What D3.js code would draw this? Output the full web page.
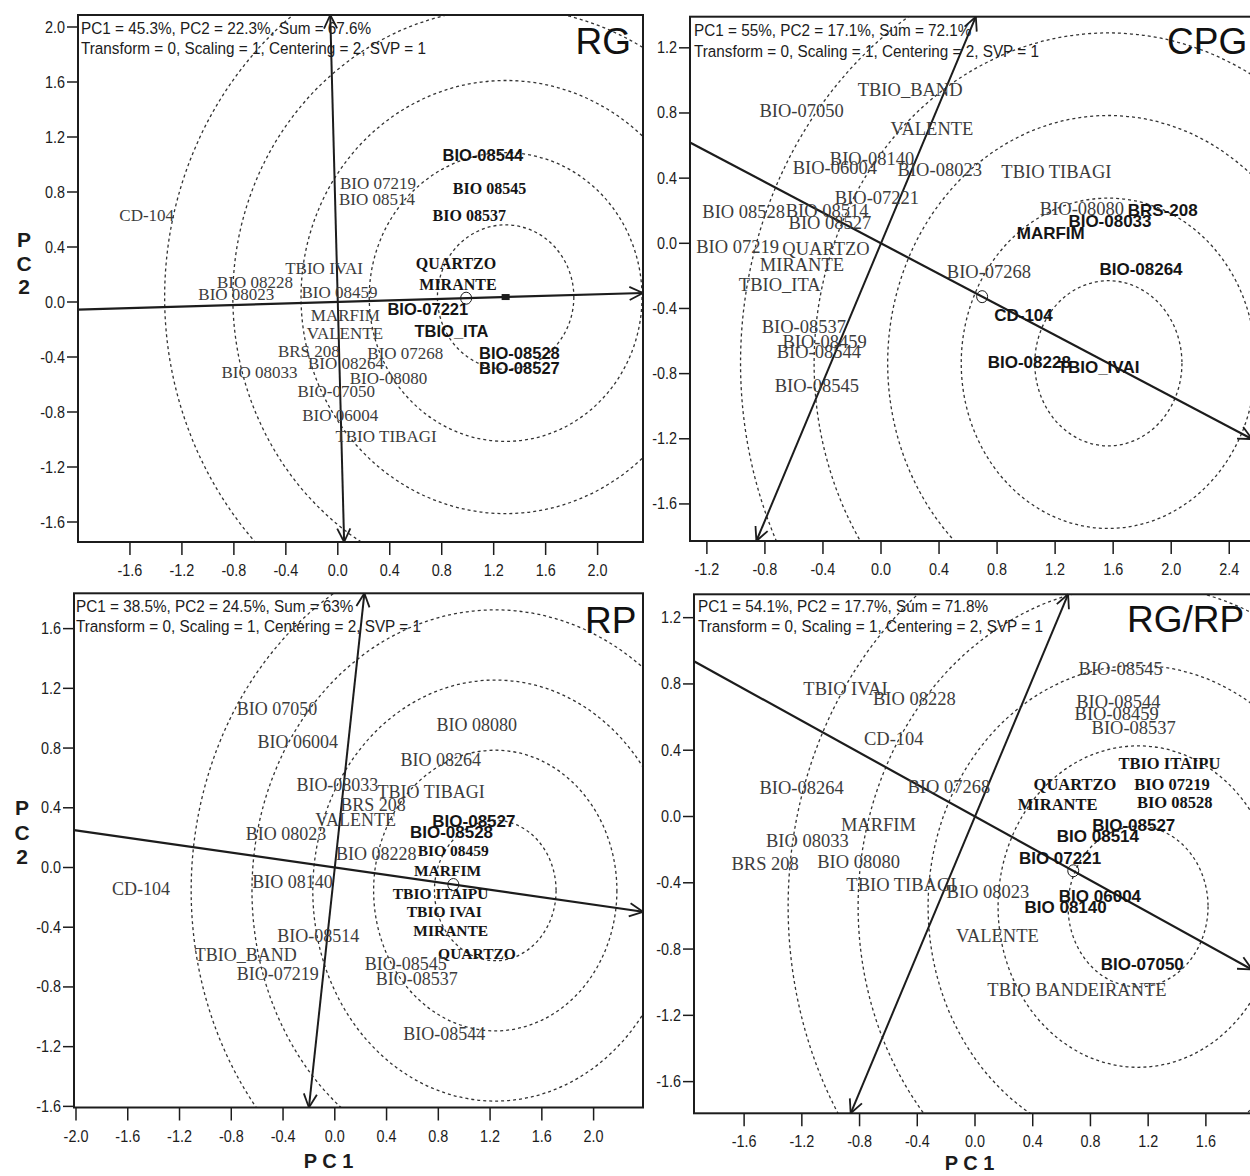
<!DOCTYPE html>
<html><head><meta charset="utf-8">
<script src="https://cdn.jsdelivr.net/npm/d3@7"></script>
<style>body{margin:0;background:#fff}svg{display:block}</style>
</head><body>
<svg id="c" width="1250" height="1176"></svg>
<script>
// ================= DATA =================
// group codes: 0 = regular, 1 = bold group A, 2 = bold group B
const rgInfo = ["PC1 = 45.3%, PC2 = 22.3%, Sum = 67.6%", "Transform = 0, Scaling = 1, Centering = 2, SVP = 1"];
const cpgInfo = ["PC1 = 55%, PC2 = 17.1%, Sum = 72.1%", "Transform = 0, Scaling = 1, Centering = 2, SVP = 1"];
const rpInfo = ["PC1 = 38.5%, PC2 = 24.5%, Sum = 63%", "Transform = 0, Scaling = 1, Centering = 2, SVP = 1"];
const rgrpInfo = ["PC1 = 54.1%, PC2 = 17.7%, Sum = 71.8%", "Transform = 0, Scaling = 1, Centering = 2, SVP = 1"];

const rgXTicks = [-1.6,-1.2,-0.8,-0.4,0,0.4,0.8,1.2,1.6,2.0];
const rgYTicks = [-1.6,-1.2,-0.8,-0.4,0,0.4,0.8,1.2,1.6,2.0];
const cpgXTicks = [-1.2,-0.8,-0.4,0,0.4,0.8,1.2,1.6,2.0,2.4];
const cpgYTicks = [-1.6,-1.2,-0.8,-0.4,0,0.4,0.8,1.2];
const rpXTicks = [-2.0,-1.6,-1.2,-0.8,-0.4,0,0.4,0.8,1.2,1.6,2.0];
const rpYTicks = [-1.6,-1.2,-0.8,-0.4,0,0.4,0.8,1.2,1.6];
const rgrpXTicks = [-1.6,-1.2,-0.8,-0.4,0,0.4,0.8,1.2,1.6];
const rgrpYTicks = [-1.6,-1.2,-0.8,-0.4,0,0.4,0.8,1.2];

// average-environment axis slope, ideal point (on axis), average marker, ring radii
const rgAxisSlope = 0.0279,  rgIdealX = 1.292,  rgAvgX = 0.988;
const cpgAxisSlope = -0.470, cpgIdealX = 1.567, cpgAvgX = 0.697;
const rpAxisSlope = -0.1245, rpIdealX = 1.24,   rpAvgX = 0.916;
const rgrpAxisSlope = -0.481, rgrpIdealX = 1.13, rgrpAvgX = 0.681;
const rgRings = [0.525, 1.05, 1.575, 2.1, 2.625];
const cpgRings = [0.507, 1.014, 1.521, 2.028, 2.535];
const rpRings = [0.47, 0.94, 1.41, 1.88, 2.35];
const rgrpRings = [0.485, 0.97, 1.455, 1.94, 2.425];

const rgGenotypes = [
 ["BIO-08544", 1.117, 1.069, 1], ["BIO 08545", 1.168, 0.827, 2], ["BIO 08537", 1.012, 0.633, 2],
 ["BIO 07219", 0.309, 0.863, 0], ["BIO 08514", 0.302, 0.747, 0], ["CD-104", -1.471, 0.633, 0],
 ["QUARTZO", 0.910, 0.281, 2], ["TBIO IVAI", -0.106, 0.249, 0], ["BIO 08228", -0.637, 0.148, 0],
 ["BIO 08023", -0.781, 0.058, 0], ["MIRANTE", 0.925, 0.130, 2], ["BIO 08459", 0.013, 0.069, 0],
 ["BIO-07221", 0.693, -0.052, 1], ["MARFIM", 0.058, -0.095, 0], ["VALENTE", 0.055, -0.223, 0],
 ["TBIO_ITA", 0.875, -0.210, 1], ["BRS 208", -0.223, -0.354, 0], ["BIO 07268", 0.520, -0.369, 0],
 ["BIO 08264", 0.063, -0.441, 0], ["BIO-08528", 1.398, -0.372, 1], ["BIO-08527", 1.398, -0.478, 1],
 ["BIO 08033", -0.603, -0.507, 0], ["BIO-08080", 0.390, -0.552, 0], ["BIO-07050", -0.012, -0.647, 0],
 ["BIO 06004", 0.019, -0.822, 0], ["TBIO TIBAGI", 0.371, -0.975, 0]
];
const cpgGenotypes = [
 ["TBIO_BAND", 0.201, 0.941, 0], ["BIO-07050", -0.547, 0.818, 0], ["VALENTE", 0.351, 0.706, 0],
 ["BIO-06004", -0.318, 0.464, 0], ["BIO-08140", -0.062, 0.522, 0], ["BIO-08023", 0.405, 0.450, 0],
 ["TBIO TIBAGI", 1.209, 0.440, 0], ["BIO-07221", -0.028, 0.282, 0], ["BIO 08528", -0.946, 0.198, 0],
 ["BIO 08514", -0.371, 0.204, 0], ["BIO 08527", -0.352, 0.126, 0], ["BIO 07219", -0.988, -0.017, 0],
 ["QUARTZO", -0.379, -0.031, 0], ["MIRANTE", -0.545, -0.133, 0], ["TBIO_ITA", -0.698, -0.256, 0],
 ["BIO-08080", 1.385, 0.215, 0], ["BRS-208", 1.942, 0.204, 1], ["BIO-08033", 1.578, 0.139, 1],
 ["MARFIM", 1.170, 0.061, 1], ["BIO-07268", 0.744, -0.174, 0], ["BIO-08264", 1.792, -0.160, 1],
 ["CD-104", 0.982, -0.440, 1], ["BIO-08537", -0.532, -0.512, 0], ["BIO-08459", -0.389, -0.600, 0],
 ["BIO-08544", -0.428, -0.665, 0], ["BIO-08545", -0.442, -0.876, 0], ["BIO-08228", 1.022, -0.727, 1],
 ["TBIO_IVAI", 1.499, -0.761, 1]
];
const rpGenotypes = [
 ["BIO 07050", -0.447, 1.066, 0], ["BIO 06004", -0.287, 0.843, 0], ["BIO 08080", 1.097, 0.954, 0],
 ["BIO 08264", 0.818, 0.720, 0], ["BIO-08033", 0.020, 0.553, 0], ["TBIO TIBAGI", 0.744, 0.508, 0],
 ["BRS 208", 0.295, 0.423, 0], ["VALENTE", 0.161, 0.318, 0], ["BIO-08527", 1.075, 0.312, 1],
 ["BIO-08528", 0.902, 0.240, 1], ["BIO 08023", -0.377, 0.229, 0], ["BIO 08228", 0.321, 0.095, 0],
 ["BIO 08459", 0.915, 0.111, 2], ["MARFIM", 0.871, -0.020, 2], ["CD-104", -1.498, -0.139, 0],
 ["BIO 08140", -0.326, -0.095, 0], ["TBIO ITAIPU", 0.818, -0.173, 2], ["TBIO IVAI", 0.846, -0.296, 2],
 ["MIRANTE", 0.896, -0.425, 2], ["QUARTZO", 1.099, -0.577, 2], ["BIO-08514", -0.128, -0.459, 0],
 ["TBIO_BAND", -0.688, -0.586, 0], ["BIO-07219", -0.441, -0.709, 0], ["BIO-08545", 0.548, -0.645, 0],
 ["BIO-08537", 0.634, -0.742, 0], ["BIO-08544", 0.846, -1.111, 0]
];
const rgrpGenotypes = [
 ["TBIO IVAI", -0.897, 0.774, 0], ["BIO 08228", -0.420, 0.709, 0], ["CD-104", -0.563, 0.472, 0],
 ["BIO-08264", -1.202, 0.176, 0], ["BIO 07268", -0.181, 0.180, 0], ["MARFIM", -0.669, -0.047, 0],
 ["BIO 08033", -1.162, -0.148, 0], ["BRS 208", -1.454, -0.282, 0], ["BIO 08080", -0.807, -0.269, 0],
 ["TBIO TIBAGI", -0.510, -0.413, 0], ["BIO-08545", 1.010, 0.894, 0], ["BIO-08544", 0.993, 0.693, 0],
 ["BIO-08459", 0.982, 0.623, 0], ["BIO-08537", 1.100, 0.536, 0], ["TBIO ITAIPU", 1.347, 0.321, 2],
 ["QUARTZO", 0.693, 0.196, 2], ["BIO 07219", 1.365, 0.196, 2], ["MIRANTE", 0.573, 0.074, 2],
 ["BIO 08528", 1.384, 0.089, 2], ["BIO-08527", 1.100, -0.051, 1], ["BIO 08514", 0.852, -0.118, 1],
 ["BIO 07221", 0.589, -0.252, 1], ["BIO 08023", 0.090, -0.454, 0], ["BIO 06004", 0.866, -0.480, 1],
 ["BIO 08140", 0.628, -0.544, 1], ["VALENTE", 0.155, -0.721, 0], ["BIO-07050", 1.159, -0.890, 1],
 ["TBIO BANDEIRANTE", 0.707, -1.043, 0]
];

// ================= DRAWING =================
const svg = d3.select("#c");
const SANS = "'Liberation Sans', Arial, sans-serif";
const SERIF = "'Liberation Serif', 'Times New Roman', serif";
const INK = "#1c1c1c";

function squeezedText(g, x, y, str, size, sx, anchor, weight) {
  return g.append("text")
    .attr("transform", `translate(${x},${y}) scale(${sx},1)`)
    .attr("font-family", SANS).attr("font-size", size)
    .attr("font-weight", weight || "normal")
    .attr("text-anchor", anchor || "start").attr("fill", INK).text(str);
}

function clipLine(O, D, l, r, t, b) {
  let lo = -Infinity, hi = Infinity;
  [[O[0], D[0], l, r], [O[1], D[1], t, b]].forEach(([o, d, mn, mx]) => {
    if (Math.abs(d) < 1e-12) return;
    const t1 = (mn - o) / d, t2 = (mx - o) / d;
    lo = Math.max(lo, Math.min(t1, t2)); hi = Math.min(hi, Math.max(t1, t2));
  });
  return [[O[0] + lo * D[0], O[1] + lo * D[1]], [O[0] + hi * D[0], O[1] + hi * D[1]]];
}

function arrowHead(g, tip, from) {
  const dx = tip[0] - from[0], dy = tip[1] - from[1];
  const L = Math.hypot(dx, dy), ux = dx / L, uy = dy / L;
  const len = 15, a = 26 * Math.PI / 180;
  [a, -a].forEach(ang => {
    const c = Math.cos(ang), s = Math.sin(ang);
    const rx = ux * c - uy * s, ry = ux * s + uy * c;
    g.append("line").attr("x1", tip[0]).attr("y1", tip[1])
      .attr("x2", tip[0] - len * rx).attr("y2", tip[1] - len * ry)
      .attr("stroke", INK).attr("stroke-width", 1.8);
  });
}

function drawPanel(p) {
  const g = svg.append("g");
  const x = d3.scaleLinear().domain([(p.l - p.x0) / p.kx, (p.r - p.x0) / p.kx]).range([p.l, p.r]);
  const y = d3.scaleLinear().domain([(p.y0 - p.b) / p.ky, (p.y0 - p.t) / p.ky]).range([p.b, p.t]);
  const cid = "clip" + p.id;
  svg.append("clipPath").attr("id", cid).append("rect")
    .attr("x", p.l).attr("y", p.t).attr("width", p.r - p.l).attr("height", p.b - p.t);
  const inner = g.append("g").attr("clip-path", `url(#${cid})`);

  // concentric rings about the ideal point
  const cx = p.idealX, cy = p.slope * p.idealX;
  inner.selectAll("ellipse.ring").data(p.rings).join("ellipse").attr("class", "ring")
    .attr("cx", x(cx)).attr("cy", y(cy))
    .attr("rx", d => x(d) - x(0)).attr("ry", d => y(0) - y(d))
    .attr("fill", "none").attr("stroke", "#333").attr("stroke-width", 1.3)
    .attr("stroke-dasharray", "3,3");

  // axes through origin
  const O = [x(0), y(0)];
  const Dab = [x(1) - x(0), y(p.slope) - y(0)];
  const Dor = [x(-p.slope) - x(0), y(1) - y(0)];
  const ab = clipLine(O, Dab, p.l, p.r, p.t, p.b);
  const or = clipLine(O, Dor, p.l, p.r, p.t, p.b);
  g.append("line").attr("x1", ab[0][0]).attr("y1", ab[0][1]).attr("x2", ab[1][0]).attr("y2", ab[1][1])
    .attr("stroke", INK).attr("stroke-width", 2.2);
  arrowHead(g, ab[1], ab[0]);
  g.append("line").attr("x1", or[0][0]).attr("y1", or[0][1]).attr("x2", or[1][0]).attr("y2", or[1][1])
    .attr("stroke", INK).attr("stroke-width", 2);
  arrowHead(g, or[1], or[0]);
  arrowHead(g, or[0], or[1]);

  // average marker
  g.append("ellipse").attr("cx", x(p.avgX)).attr("cy", y(p.slope * p.avgX))
    .attr("rx", 5.5).attr("ry", 6).attr("fill", "none").attr("stroke", INK).attr("stroke-width", 1);
  if (p.square) {
    g.append("rect").attr("x", x(cx) - 4).attr("y", y(cy) - 3).attr("width", 8).attr("height", 6).attr("fill", INK);
  }

  // genotype labels
  const fam = d => d[3] === 1 ? SANS : SERIF;
  const fsize = d => d[3] === 0 ? p.fSerif : (d[3] === 1 ? p.fBoldSans : p.fBoldSerif);
  g.selectAll("text.gen").data(p.gen).join("text").attr("class", "gen")
    .attr("x", d => x(d[1])).attr("y", d => y(d[2])).attr("dy", "0.35em")
    .attr("text-anchor", "middle")
    .attr("font-family", fam).attr("font-size", fsize)
    .attr("font-weight", d => d[3] === 0 ? "normal" : "bold")
    .attr("fill", d => d[3] === 0 ? "#3c3c3c" : "#151515")
    .text(d => d[0]);

  // frame
  g.append("rect").attr("x", p.l).attr("y", p.t).attr("width", p.r - p.l).attr("height", p.b - p.t)
    .attr("fill", "none").attr("stroke", INK).attr("stroke-width", 2);

  // ticks
  const fmt = v => v.toFixed(1);
  p.yTicks.forEach(v => {
    g.append("line").attr("x1", p.l - 11).attr("x2", p.l).attr("y1", y(v)).attr("y2", y(v))
      .attr("stroke", INK).attr("stroke-width", 1.5);
    squeezedText(g, p.l - 13, y(v) + 5.5, fmt(v), 16, 0.9, "end");
  });
  p.xTicks.forEach(v => {
    g.append("line").attr("x1", x(v)).attr("x2", x(v)).attr("y1", p.b).attr("y2", p.b + 13)
      .attr("stroke", INK).attr("stroke-width", 1.5);
    squeezedText(g, x(v), p.b + 34, fmt(v), 16, 0.9, "middle");
  });

  // info text
  squeezedText(g, p.infoX, p.infoY[0], p.info[0], 17, 0.9, "start");
  squeezedText(g, p.infoX, p.infoY[1], p.info[1], 17, 0.9, "start");
  // panel name
  g.append("text").attr("x", p.titleX).attr("y", p.titleY).attr("text-anchor", p.titleAnchor)
    .attr("font-family", SANS).attr("font-size", 37).attr("fill", "#111").text(p.title);
}

const panels = [
  {id: "RG", title: "RG", l: 78, r: 643, t: 15, b: 542, x0: 337.8, kx: 129.9, y0: 302, ky: 137.5,
   xTicks: rgXTicks, yTicks: rgYTicks, slope: rgAxisSlope, idealX: rgIdealX, avgX: rgAvgX, rings: rgRings,
   gen: rgGenotypes, info: rgInfo, infoX: 81, infoY: [33.5, 53.5], titleX: 631, titleY: 54, titleAnchor: "end",
   fSerif: 17, fBoldSans: 16.5, fBoldSerif: 16, square: true},
  {id: "CPG", title: "CPG", l: 690, r: 1252, t: 16.7, b: 541, x0: 881, kx: 145.1, y0: 243.3, ky: 162.9,
   xTicks: cpgXTicks, yTicks: cpgYTicks, slope: cpgAxisSlope, idealX: cpgIdealX, avgX: cpgAvgX, rings: cpgRings,
   gen: cpgGenotypes, info: cpgInfo, infoX: 694, infoY: [35.5, 56.5], titleX: 1167, titleY: 54, titleAnchor: "start",
   fSerif: 18.5, fBoldSans: 17, fBoldSerif: 16.5, square: false},
  {id: "RP", title: "RP", l: 74, r: 643, t: 593.3, b: 1107.5, x0: 334.8, kx: 129.4, y0: 867.5, ky: 149.3,
   xTicks: rpXTicks, yTicks: rpYTicks, slope: rpAxisSlope, idealX: rpIdealX, avgX: rpAvgX, rings: rpRings,
   gen: rpGenotypes, info: rpInfo, infoX: 76, infoY: [611.7, 631.7], titleX: 636.5, titleY: 633, titleAnchor: "end",
   fSerif: 18, fBoldSans: 17, fBoldSerif: 15.5, square: false},
  {id: "RGRP", title: "RG/RP", l: 694, r: 1252, t: 594.3, b: 1113.3, x0: 975, kx: 144.3, y0: 816.5, ky: 165.7,
   xTicks: rgrpXTicks, yTicks: rgrpYTicks, slope: rgrpAxisSlope, idealX: rgrpIdealX, avgX: rgrpAvgX, rings: rgrpRings,
   gen: rgrpGenotypes, info: rgrpInfo, infoX: 698, infoY: [611.7, 631.7], titleX: 1127, titleY: 632, titleAnchor: "start",
   fSerif: 18.5, fBoldSans: 17, fBoldSerif: 16.5, square: false}
];
panels.forEach(drawPanel);

// axis titles
function stacked(x, ys, letters) {
  letters.forEach((ch, i) => svg.append("text").attr("x", x).attr("y", ys[i]).attr("text-anchor", "middle")
    .attr("font-family", SANS).attr("font-weight", "bold").attr("font-size", 21).attr("fill", INK).text(ch));
}
stacked(24, [247, 271, 294], ["P", "C", "2"]);
stacked(22, [815, 840, 864], ["P", "C", "2"]);
svg.append("text").attr("x", 328.5).attr("y", 1168).attr("text-anchor", "middle").attr("font-family", SANS)
  .attr("font-weight", "bold").attr("font-size", 20).attr("fill", INK).text("P C 1");
svg.append("text").attr("x", 969.6).attr("y", 1170).attr("text-anchor", "middle").attr("font-family", SANS)
  .attr("font-weight", "bold").attr("font-size", 20).attr("fill", INK).text("P C 1");
</script>
</body></html>
